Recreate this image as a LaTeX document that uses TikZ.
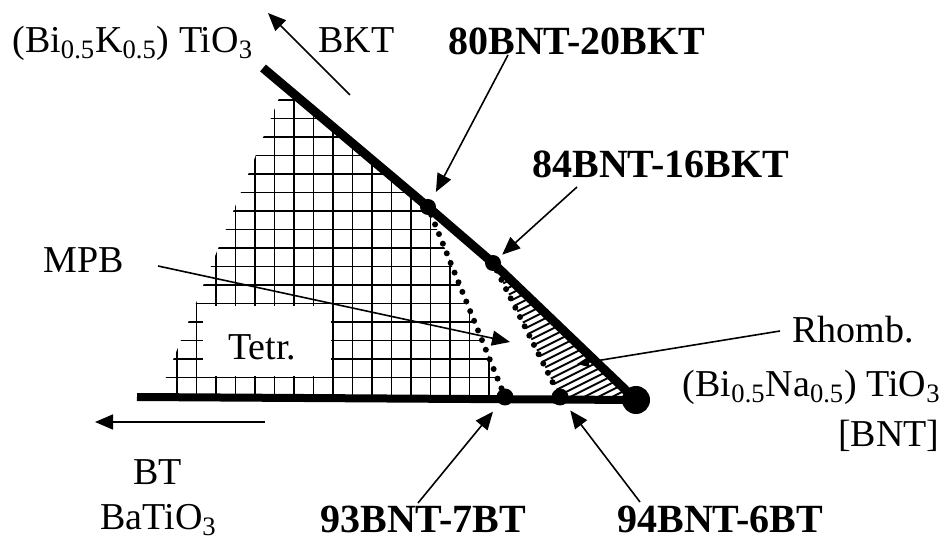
\documentclass[tikz,border=0pt]{standalone}
\usepackage{fontspec}
\setmainfont{Liberation Serif}
\usetikzlibrary{arrows.meta}

\begin{document}
\begin{tikzpicture}[
    x=0.5pt, y=-0.5pt,
    phase/.style={line width=4.5pt},
    gridline/.style={line width=0.9pt},
    hatch/.style={line width=0.9pt},
    mpbline/.style={line width=3pt, line cap=round, dash pattern=on 0pt off 5.2pt},
    dot/.style={circle, fill, inner sep=0pt, minimum size=8pt},
    ptr/.style={-{Triangle[length=9pt,width=7.5pt]}, line width=0.8pt},
    lbl/.style={inner sep=0pt, font=\fontsize{19}{22}\selectfont},
    blbl/.style={inner sep=0pt, font=\fontsize{20}{23}\selectfont\bfseries}
]
\useasboundingbox (0,0) rectangle (944,545);

% end members and compositions
\coordinate (ktop) at (263,68);
\coordinate (bleft) at (137,397);
\node[dot, minimum size=14pt] (bnt) at (636,400) {};
\node[dot] (d80) at (428,207) {};
\node[dot] (d84) at (493,263) {};
\node[dot, minimum size=8.5pt] (d93) at (505,397) {};
\node[dot, minimum size=8.5pt] (d94) at (560,397) {};

% tetragonal field
\begin{scope}
  \clip (158,397) -- (284,86) -- (d80.center) -- (d93.center) -- cycle;
  \foreach \y in {100,118.5,...,390} \draw[gridline] (140,\y) -- (520,\y);
  \foreach \x in {177,196.5,...,500} \draw[gridline] (\x,80) -- (\x,400);
\end{scope}
\fill[white] (203,306) rectangle (331,376);

% rhombohedral field
\begin{scope}
  \clip (d84.center) -- (bnt.center) -- (d94.center) -- cycle;
  \foreach \c in {500,507,...,740} \draw[hatch] (470,\c-235) -- (660,\c-330);
\end{scope}

% phase boundaries
\draw[phase] (ktop) -- (d80.center) -- (d84.center) -- (bnt.center);
\draw[phase, line width=4pt] (bleft) -- (bnt.center);
\draw[mpbline] (d80) -- (d93);
\draw[mpbline] (d84) -- (d94);

% labels
\node[lbl, anchor=base west] (kbt) at (12,53) {(Bi\textsubscript{0.5}K\textsubscript{0.5}) TiO\textsubscript{3}};
\node[lbl, anchor=base west] (bkt) at (318,53) {BKT};
\node[blbl, anchor=base west] (l80) at (448,55) {80BNT-20BKT};
\node[blbl, anchor=base west] (l84) at (532,178) {84BNT-16BKT};
\node[lbl, anchor=base west] (mpb) at (43,273) {MPB};
\node[lbl, anchor=base west] (tetr) at (228,360) {Tetr.};
\node[lbl, anchor=base west] (rhomb) at (792,343) {Rhomb.};
\node[lbl, anchor=base east] (nbt) at (941,397) {(Bi\textsubscript{0.5}Na\textsubscript{0.5}) TiO\textsubscript{3}};
\node[lbl, anchor=base east] (nbtabbr) at (940,447) {[BNT]};
\node[lbl, anchor=base west] (bt) at (133,485) {BT};
\node[lbl, anchor=base west] (bto) at (100,530) {BaTiO\textsubscript{3}};
\node[blbl, anchor=base west] (l93) at (320,533) {93BNT-7BT};
\node[blbl, anchor=base west] (l94) at (617,533) {94BNT-6BT};

% arrows
\coordinate (bkttail) at (350,95);
\coordinate (bkthead) at (268,13);
\coordinate (bttail) at (265,422);
\coordinate (bthead) at (95,422);
\coordinate (mpbtail) at (158,266);
\coordinate (mpbhead) at (510,342);
\coordinate (rhtail) at (780,331);
\coordinate (rhhead) at (577,364);
\coordinate (a80) at (508,55);
\coordinate (a84) at (577,187);
\coordinate (a93) at (418,503);
\coordinate (a94) at (640,502);
\draw[ptr] (bkttail) -- (bkthead);
\draw[ptr] (bttail) -- (bthead);
\draw[ptr] (mpbtail) -- (mpbhead);
\draw[ptr, -{Triangle[length=6pt,width=5pt]}] (rhtail) -- (rhhead);
\draw[ptr, shorten >=4.3pt] (a80) -- (d80);
\draw[ptr, shorten >=2pt] (a84) -- (d84);
\draw[ptr, shorten >=5pt] (a93) -- (d93);
\draw[ptr, shorten >=4pt] (a94) -- (d94);

\end{tikzpicture}
\end{document}
